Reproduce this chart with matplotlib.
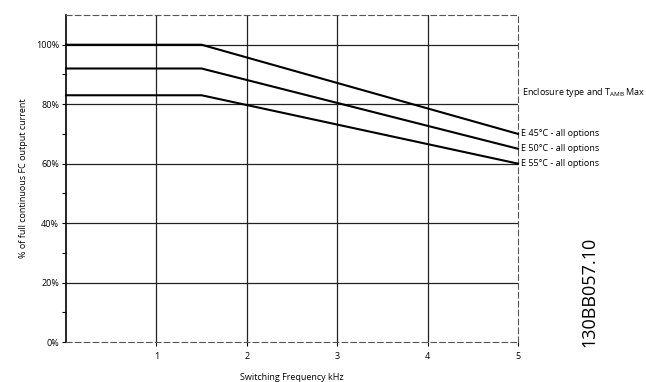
import numpy as np
import matplotlib.pyplot as plt

# Derating curves: switching frequency (kHz) vs % of full continuous FC output current
freq = [0, 1.5, 5]
curve_45 = [100, 100, 70]
curve_50 = [92, 92, 65]
curve_55 = [83, 83, 60]
curve_labels = ['E 45°C - all options', 'E 50°C - all options', 'E 55°C - all options']

x_ticks = [1, 2, 3, 4, 5]
y_ticks = [0, 20, 40, 60, 80, 100]
y_tick_labels = ['0%', '20%', '40%', '60%', '80%', '100%']

plt.rcParams['font.family'] = ['Open Sans', 'DejaVu Sans']

fig = plt.figure(figsize=(6.46, 3.82), dpi=100)
ax = fig.add_axes([66 / 646, 1 - 342 / 382, (518 - 66) / 646, (342 - 15) / 382])

ax.set_xlim(0, 5)
ax.set_ylim(0, 110)

# grid
for x in x_ticks[:-1]:
    ax.axvline(x, color='#222222', lw=0.9, zorder=1)
for y in y_ticks[1:]:
    ax.axhline(y, color='#222222', lw=0.9, zorder=1)

for ys in (curve_45, curve_50, curve_55):
    ax.plot(freq, ys, color='black', lw=1.5, zorder=3, clip_on=False)

ax.set_xticks(x_ticks)
ax.set_xticklabels([str(x) for x in x_ticks], fontsize=6.5)
ax.set_yticks(y_ticks)
ax.set_yticklabels(y_tick_labels, fontsize=6.5)
ax.set_yticks(np.arange(10, 110, 20), minor=True)
ax.tick_params(axis='both', which='both', direction='out', length=3, width=0.8)
ax.tick_params(axis='x', pad=4)
ax.tick_params(axis='y', pad=2)

ax.set_xlabel('Switching Frequency kHz', fontsize=6.5)
ax.xaxis.set_label_coords(0.5, -0.095)
ax.set_ylabel('% of full continuous FC output current', fontsize=6.5)
ax.yaxis.set_label_coords(-0.083, 0.5)

for side in ('top', 'right', 'bottom'):
    ax.spines[side].set_linestyle((0, (5, 3)))
    ax.spines[side].set_color('#555555')
    ax.spines[side].set_linewidth(0.8)
ax.spines['left'].set_linewidth(1.2)

# curve labels at right end
ax.text(5.04, 84, 'Enclosure type and T$_{\\mathregular{AMB}}$ Max', fontsize=6.5,
        va='center', ha='left', clip_on=False)
for lbl, ys in zip(curve_labels, (curve_45, curve_50, curve_55)):
    ax.text(5.03, ys[-1] + 0.2, lbl, fontsize=6.5, va='center', ha='left', clip_on=False)

fig.text(589 / 646, 1 - 292 / 382, '130BB057.10', rotation=90, fontsize=13,
         ha='center', va='center')

fig.savefig('out.png', dpi=100)
